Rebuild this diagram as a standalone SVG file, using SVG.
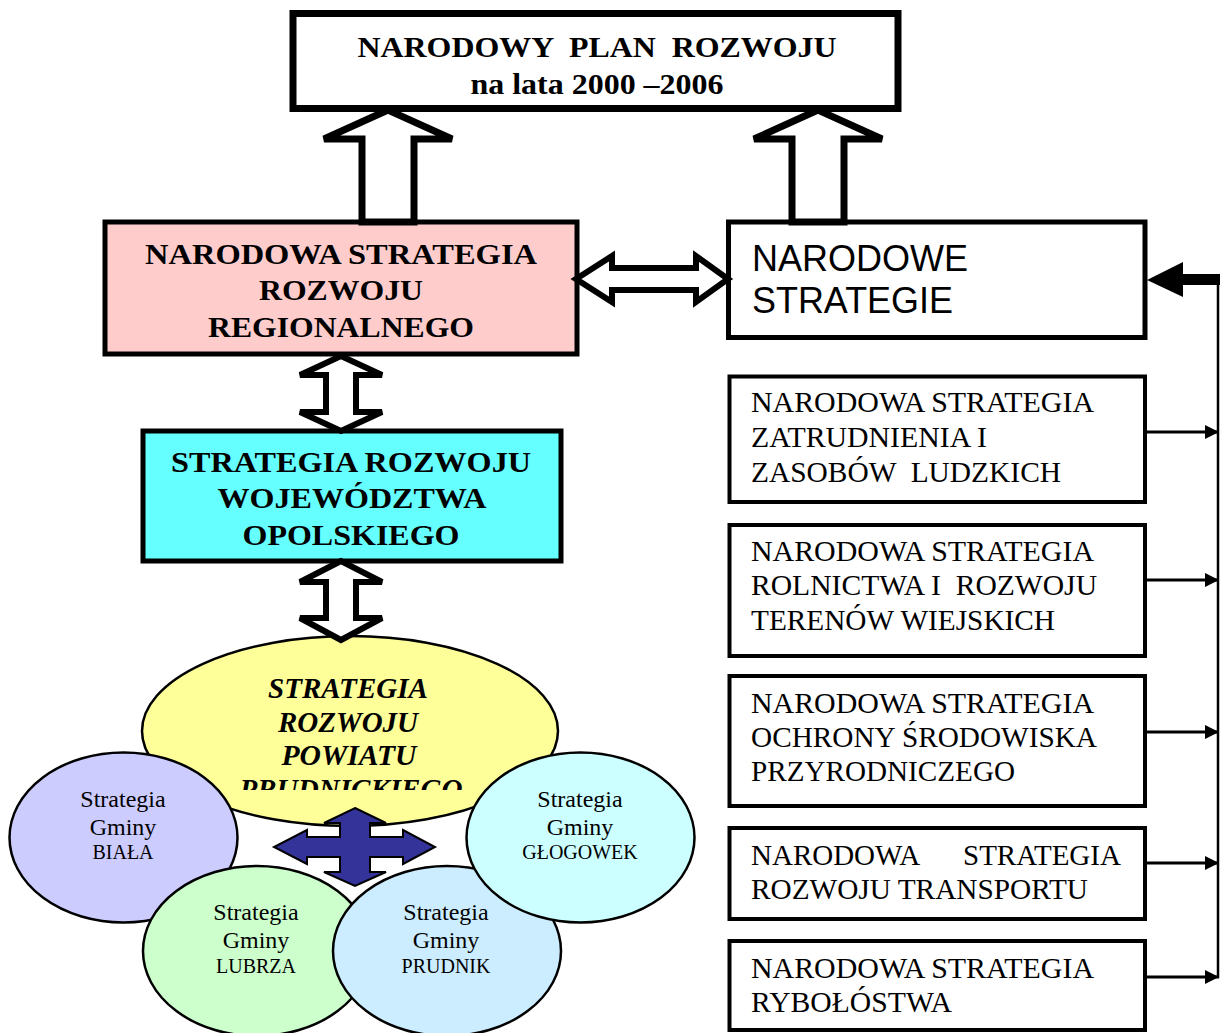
<svg xmlns="http://www.w3.org/2000/svg" width="1220" height="1033" viewBox="0 0 1220 1033">
<style>
.serif{font-family:"Liberation Serif","Times New Roman",serif;fill:#000}
.b{font-weight:bold}
.bi{font-weight:bold;font-style:italic}
.sans{font-family:"Liberation Sans",Arial,sans-serif;fill:#000}
.box{stroke:#000;stroke-width:5;fill:#fff}
.rbox{stroke:#000;stroke-width:4;fill:#fff}
.blk{stroke:#000;stroke-width:7;fill:#fff;stroke-linejoin:miter}
.blk2{stroke:#000;stroke-width:6;fill:#fff;stroke-linejoin:miter}
.circ{stroke:#000;stroke-width:2.5}
.ln{stroke:#000;stroke-width:3;fill:none}
.t28{font-size:30px}
.t29{font-size:29px}
.c{text-anchor:middle}
.g24{font-size:24px}
.g20{font-size:20px}
</style>
<defs>
<marker id="ah" markerWidth="14" markerHeight="14" refX="14" refY="7" orient="auto" markerUnits="userSpaceOnUse">
<polygon points="0,0 14,7 0,14" fill="#000"/>
</marker>
<clipPath id="ellclip"><rect x="140" y="640" width="420" height="150"/></clipPath>
</defs>
<rect width="1220" height="1033" fill="#fff"/>

<g id="npr">
<rect x="293" y="13.5" width="605" height="95" fill="#fff" stroke="#000" stroke-width="7"/>
<text class="serif b t28 c" x="597" y="57" textLength="479" lengthAdjust="spacingAndGlyphs" xml:space="preserve">NARODOWY  PLAN  ROZWOJU</text>
<text class="serif b t28 c" x="597" y="94" textLength="253" lengthAdjust="spacingAndGlyphs">na lata 2000 –2006</text>
</g>

<g id="nsrr">
<rect x="105" y="222" width="472" height="132" class="box" fill="#FFCCCC" style="fill:#FFCCCC"/>
<text class="serif b t28 c" x="341" y="264" textLength="392" lengthAdjust="spacingAndGlyphs">NARODOWA STRATEGIA</text>
<text class="serif b t28 c" x="341" y="300" textLength="164" lengthAdjust="spacingAndGlyphs">ROZWOJU</text>
<text class="serif b t28 c" x="341" y="337" textLength="266" lengthAdjust="spacingAndGlyphs">REGIONALNEGO</text>
</g>

<g id="ns">
<rect x="728.5" y="222" width="416.5" height="115.5" class="box"/>
<text class="sans" x="752" y="271" font-size="36" textLength="216" lengthAdjust="spacingAndGlyphs">NARODOWE</text>
<text class="sans" x="752" y="313" font-size="36" textLength="201" lengthAdjust="spacingAndGlyphs">STRATEGIE</text>
</g>

<g id="srwo">
<rect x="143" y="431" width="418" height="130" class="box" style="fill:#66FFFF"/>
<text class="serif b t28 c" x="351" y="472" textLength="360" lengthAdjust="spacingAndGlyphs">STRATEGIA ROZWOJU</text>
<text class="serif b t28 c" x="352" y="508" textLength="269" lengthAdjust="spacingAndGlyphs">WOJEWÓDZTWA</text>
<text class="serif b t28 c" x="351" y="545" textLength="217" lengthAdjust="spacingAndGlyphs">OPOLSKIEGO</text>
</g>

<g id="nszzl">
<rect x="729.5" y="376.5" width="415.5" height="125.5" class="rbox"/>
<text class="serif t29" x="751" y="412" textLength="343" lengthAdjust="spacingAndGlyphs">NARODOWA STRATEGIA</text>
<text class="serif t29" x="751" y="447" textLength="236" lengthAdjust="spacingAndGlyphs">ZATRUDNIENIA I</text>
<text class="serif t29" x="751" y="482" textLength="310" lengthAdjust="spacingAndGlyphs" xml:space="preserve">ZASOBÓW  LUDZKICH</text>
</g>

<g id="nsrrtw">
<rect x="729.5" y="525" width="415.5" height="131" class="rbox"/>
<text class="serif t29" x="751" y="561" textLength="343" lengthAdjust="spacingAndGlyphs">NARODOWA STRATEGIA</text>
<text class="serif t29" x="751" y="595" textLength="346" lengthAdjust="spacingAndGlyphs" xml:space="preserve">ROLNICTWA I  ROZWOJU</text>
<text class="serif t29" x="751" y="630" textLength="304" lengthAdjust="spacingAndGlyphs">TERENÓW WIEJSKICH</text>
</g>

<g id="nsosp">
<rect x="729.5" y="676" width="415.5" height="130" class="rbox"/>
<text class="serif t29" x="751" y="713" textLength="343" lengthAdjust="spacingAndGlyphs">NARODOWA STRATEGIA</text>
<text class="serif t29" x="751" y="747" textLength="346" lengthAdjust="spacingAndGlyphs">OCHRONY ŚRODOWISKA</text>
<text class="serif t29" x="751" y="781" textLength="264" lengthAdjust="spacingAndGlyphs">PRZYRODNICZEGO</text>
</g>

<g id="nsrt">
<rect x="729.5" y="828" width="415.5" height="91" class="rbox"/>
<text class="serif t29" y="865"><tspan x="751">NARODOWA</tspan><tspan x="963">STRATEGIA</tspan></text>
<text class="serif t29" x="751" y="899" textLength="337" lengthAdjust="spacingAndGlyphs">ROZWOJU TRANSPORTU</text>
</g>

<g id="nsr">
<rect x="729.5" y="941" width="415.5" height="89" class="rbox"/>
<text class="serif t29" x="751" y="978" textLength="343" lengthAdjust="spacingAndGlyphs">NARODOWA STRATEGIA</text>
<text class="serif t29" x="751" y="1012" textLength="201" lengthAdjust="spacingAndGlyphs">RYBOŁÓSTWA</text>
</g>

<g id="srpp">
<ellipse cx="350" cy="731" rx="208" ry="95" fill="#FFFF99" class="circ"/>
<g clip-path="url(#ellclip)">
<text class="serif bi t29 c" x="348" y="698" textLength="160" lengthAdjust="spacingAndGlyphs">STRATEGIA</text>
<text class="serif bi t29 c" x="348" y="732" textLength="140" lengthAdjust="spacingAndGlyphs">ROZWOJU</text>
<text class="serif bi t29 c" x="349" y="765" textLength="135" lengthAdjust="spacingAndGlyphs">POWIATU</text>
<text class="serif bi t29 c" x="351" y="799" textLength="223" lengthAdjust="spacingAndGlyphs">PRUDNICKIEGO</text>
</g>
</g>

<g id="biala">
<ellipse cx="123.5" cy="837.5" rx="114" ry="85" fill="#CCCCFF" class="circ"/>
<text class="serif g24 c" x="123" y="807">Strategia</text>
<text class="serif g24 c" x="123" y="835">Gminy</text>
<text class="serif g20 c" x="123" y="859">BIAŁA</text>
</g>

<g id="lubrza">
<ellipse cx="257" cy="951" rx="114" ry="85" fill="#CCFFCC" class="circ"/>
<text class="serif g24 c" x="256" y="920">Strategia</text>
<text class="serif g24 c" x="256" y="948">Gminy</text>
<text class="serif g20 c" x="256" y="973">LUBRZA</text>
</g>

<g id="prudnik">
<ellipse cx="447" cy="951" rx="114" ry="85" fill="#CCECFF" class="circ"/>
<text class="serif g24 c" x="446" y="920">Strategia</text>
<text class="serif g24 c" x="446" y="948">Gminy</text>
<text class="serif g20 c" x="446" y="973">PRUDNIK</text>
</g>

<g id="glogowek">
<ellipse cx="580.5" cy="837.5" rx="114" ry="85" fill="#CCFFFF" class="circ"/>
<text class="serif g24 c" x="580" y="807">Strategia</text>
<text class="serif g24 c" x="580" y="835">Gminy</text>
<text class="serif g20 c" x="580" y="859">GŁOGOWEK</text>
</g>

<g id="connectors">
<polygon class="blk" points="388,110 324,139 362,139 362,222 414,222 414,139 452,139"/>
<polygon class="blk" points="818,110 754,139 792,139 792,222 844,222 844,139 882,139"/>
<polygon class="blk2" points="576,279 612,256 612,268 696,268 696,256 728,279 696,302 696,290 612,290 612,302"/>
<polygon class="blk2" points="341,356 300,375 326,375 326,412 300,412 341,431 382,412 356,412 356,375 382,375"/>
<polygon class="blk2" points="341,561 300,582 326,582 326,618 300,618 341,640 382,618 356,618 356,582 382,582"/>
<polygon fill="#333399" stroke="#000" stroke-width="2" points="355,808 386,823 370,823 370,837 403,837 403,830 435,847 403,864 403,857 370,857 370,872 386,872 355,886 324,872 340,872 340,857 307,857 307,864 274,847 307,830 307,837 340,837 340,823 324,823"/>
<line x1="1218" y1="279" x2="1218" y2="978" stroke="#000" stroke-width="2.5"/>
<line x1="1220" y1="279.5" x2="1180" y2="279.5" stroke="#000" stroke-width="11"/>
<polygon points="1147,280 1183,262 1183,297" fill="#000"/>
<line class="ln" x1="1147" y1="432" x2="1219" y2="432" marker-end="url(#ah)"/>
<line class="ln" x1="1147" y1="580" x2="1219" y2="580" marker-end="url(#ah)"/>
<line class="ln" x1="1147" y1="732" x2="1219" y2="732" marker-end="url(#ah)"/>
<line class="ln" x1="1147" y1="863" x2="1219" y2="863" marker-end="url(#ah)"/>
<line class="ln" x1="1147" y1="977" x2="1219" y2="977" marker-end="url(#ah)"/>
</g>
</svg>
